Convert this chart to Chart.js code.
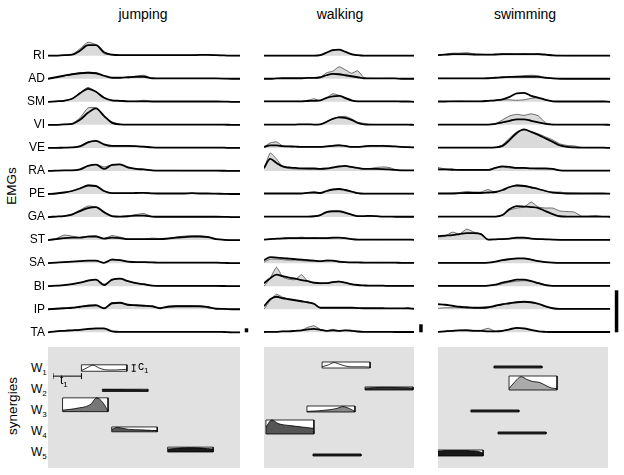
<!DOCTYPE html>
<html><head><meta charset="utf-8">
<script src="https://cdn.jsdelivr.net/npm/chart.js@4.4.0/dist/chart.umd.min.js"></script>
<style>
body{margin:0;background:#fff;width:624px;height:475px;position:relative;overflow:hidden;font-family:"Liberation Sans",Arial,sans-serif;color:#000;}
canvas{position:absolute;display:block;}
.title{position:absolute;top:7px;font-size:14px;line-height:14px;transform:translateX(-50%);white-space:nowrap;}
.vlab{position:absolute;line-height:1;transform:translate(-50%,-50%) rotate(-90deg);white-space:nowrap;}
.wlab{position:absolute;font-size:12px;line-height:12px;left:31px;white-space:nowrap;}
.wlab sub,.sm sub{font-size:8px;line-height:8px;vertical-align:-3px;}
.sm{position:absolute;font-size:12px;line-height:12px;white-space:nowrap;}
</style></head>
<body>
<div class="title" style="left:143px">jumping</div>
<div class="title" style="left:340px">walking</div>
<div class="title" style="left:525px">swimming</div>
<div class="vlab" style="left:12px;top:186px;font-size:13.5px">EMGs</div>
<div class="vlab" style="left:13px;top:406px;font-size:13.5px">synergies</div>
<div class="wlab" style="top:361.5px">W<sub>1</sub></div>
<div class="wlab" style="top:382.5px">W<sub>2</sub></div>
<div class="wlab" style="top:403.5px">W<sub>3</sub></div>
<div class="wlab" style="top:424.5px">W<sub>4</sub></div>
<div class="wlab" style="top:445.5px">W<sub>5</sub></div>
<canvas id="e0" width="252" height="320" style="left:0;top:25px"></canvas>
<canvas id="e1" width="162" height="320" style="left:264px;top:25px"></canvas>
<canvas id="e2" width="184" height="320" style="left:438px;top:25px"></canvas>
<canvas id="s0" width="192" height="121" style="left:48px;top:347px;background:#e1e1e1"></canvas>
<canvas id="s1" width="150" height="121" style="left:264px;top:347px;background:#e1e1e1"></canvas>
<canvas id="s2" width="170" height="121" style="left:438px;top:347px;background:#e1e1e1"></canvas>
<div class="sm" style="left:60px;top:374px">t<sub>1</sub></div>
<div class="sm" style="left:138px;top:360px">c<sub>1</sub></div>
<script>
const tasks = ['jumping','walking','swimming'];
const muscles = ['RI','AD','SM','VI','VE','RA','PE','GA','ST','SA','BI','IP','TA'];
const durationsMs = [800, 625, 717];
const scaleBarHeights = [4, 8, 42];

// EMG envelopes (grey filled) and synergy reconstruction (thick line), 25 samples per trial
const jumpingEMG = [
 [0,0,0.5,1,7,13.5,11,2,0.8,0.5,0.5,0.5,0.5,0.5,0.5,0.5,0.5,0.5,0.5,1,1,0.5,0.3,0,0],
 [0,1.5,3,4.5,6,6.5,6,3,1,1,1.5,2.5,3.5,0.5,0.3,0.3,0.3,0.3,0.3,0.3,0.3,0.3,0.2,0,0],
 [0,0.5,1,3,9,14.5,10,4.5,1,0.5,0.5,0.5,1.5,0.3,0.3,0.3,0.3,0.3,0.3,0.3,0.3,0.3,0.2,0,0],
 [0,0,0.5,1,7,17,17,8,3,0.5,0.3,0.3,0.3,0.3,0.3,0.3,0.3,0.3,0.3,0.3,0.3,0.3,0.2,0,0],
 [0,0,0.3,0.5,2,6,7.5,3,1.5,1.5,1.5,1.5,1,0.5,0.3,0.3,0.3,0.3,0.3,0.3,0.3,0.3,0.2,0,0],
 [0,0.3,0.5,0.5,1.5,5,6.5,4,6,6.5,3,2,1.5,0.5,0.5,0.5,0.5,0.3,0.3,0.3,0.3,0.3,0.2,0,0],
 [0,0.5,1.5,3,6,9,8,3,0.8,0.8,0.8,1,1.5,0.7,0.5,0.5,0.5,0.5,0.8,0.5,0.5,0.3,0.2,0,0],
 [0,0.5,1,3,7,11,10,4,0.5,0.5,1,2.5,3.5,0.5,0.3,0.3,0.3,0.3,0.3,0.3,0.3,0.3,0.2,0,0],
 [0,1.5,5,4,2.5,4,4.5,1.5,4.5,3,1,1,1,2,1.5,2,3,4,4.5,4.5,3.5,1,0.3,0,0],
 [0,0.5,1,1.5,2,2.5,2.5,0.5,4,3,1.5,1,1,0.8,0.5,0.5,0.5,0.5,0.5,0.5,0.5,0.5,0.3,0,0],
 [0,0.5,1,2,3.5,6,6.5,2,6,7.5,5,3,1.5,0.8,0.3,0.3,0.3,0.3,0.3,0.3,0.3,0.3,0.2,0,0],
 [0,0.5,1,1.5,2.5,4,4,1,6.5,6.5,4.5,4,3.5,3,1,3,3.5,3.5,3.5,3,2.5,0.5,0.3,0,0],
 [0,1,1.5,2,2.5,3,3.5,3.5,1,0.5,0.5,0.5,0.5,0.5,0.5,0.5,0.5,0.5,0.5,0.5,0.5,0.5,0.3,0,0]
];
const jumpingFit = [
 [0,0,0.5,1,5,10.5,10.5,3.5,1,0.5,0.5,0.5,0.5,0.5,0.5,0.5,0.5,0.5,0.5,0.8,0.8,0.5,0.3,0,0],
 [0,1.5,3,4.5,5.5,6,5.5,3,1,1,1.5,2,2,0.5,0.3,0.3,0.3,0.3,0.3,0.3,0.3,0.3,0.2,0,0],
 [0,0.5,1,3,8.5,13,10,4,1.5,1,0.5,0.5,0.5,0.3,0.3,0.3,0.3,0.3,0.3,0.3,0.3,0.3,0.2,0,0],
 [0,0,0.5,1,5,12,16.5,9,2,0.5,0.3,0.3,0.3,0.3,0.3,0.3,0.3,0.3,0.3,0.3,0.3,0.3,0.2,0,0],
 [0,0,0.3,0.5,1.5,5.5,7,3.5,2,2,2,1.8,1.2,0.5,0.3,0.3,0.3,0.3,0.3,0.3,0.3,0.3,0.2,0,0],
 [0,0.3,0.5,0.5,1.5,5,6.3,2,6,6.5,3.5,2,1.5,0.5,0.3,0.3,0.3,0.3,0.3,0.3,0.3,0.3,0.2,0,0],
 [0,0.5,1.5,3,5.5,8.5,8,3,0.8,0.8,0.8,1,1.2,0.7,0.5,0.5,0.5,0.5,0.8,0.5,0.5,0.3,0.2,0,0],
 [0,0.5,1,2.5,6,9,10,5,1,0.5,0.8,1.5,1.5,0.5,0.3,0.3,0.3,0.3,0.3,0.3,0.3,0.3,0.2,0,0],
 [0,1,2,2.5,2.5,3.5,3.5,1.5,2.5,2,1,1,1,1,1,1.5,2.5,3,3.5,3.5,3,1,0.3,0,0],
 [0,0.5,1,1.5,2,2.5,2.5,0.3,3.5,3,1.5,1,1,0.8,0.5,0.5,0.5,0.5,0.5,0.5,0.5,0.5,0.3,0,0],
 [0,0.5,1,2,3.5,5.5,6.5,1,6.5,7.5,5,3,2,0.5,0.3,0.3,0.3,0.3,0.3,0.3,0.3,0.3,0.2,0,0],
 [0,0.5,1,1.5,2.5,3.5,4,0.8,6,6.5,4.5,4,3.5,3,1,2.5,3,3,3,3,2,0.5,0.3,0,0],
 [0,1,1.5,2,2.5,3.5,4,4,1,0.5,0.5,0.5,0.5,0.5,0.5,0.5,0.5,0.5,0.5,0.5,0.5,0.5,0.3,0,0]
];
const walkingEMG = [
 [0,0,0,0,0,0,0,0,0,0.5,3,6,6,3.5,1,0.3,0,0,0,0,0,0,0,0,0],
 [0,0,0.3,0.5,0.5,0.5,0.5,1,0.8,1,6,7.5,12,9,5.5,8,1,0.5,0.3,0.3,0.5,0.3,0,0,0],
 [0.5,0.5,0.5,0.5,0.5,0.5,0.5,1.5,3,1,4,8,6.5,3,1,0.5,0.5,0.5,0.5,0.5,0.5,0.5,0.3,0.3,0],
 [0.3,0.3,0.3,0.3,0.3,0.3,0.5,0.5,0.3,0.5,3,6,8,8.5,6,2.5,1.5,0.5,0.3,0.3,0.3,0.3,0.3,0.3,0],
 [1,5,6,2,1.5,1.5,1,1,1,1,1.5,2.5,3,2,1,1,1.5,2,2,2.5,2,1.5,1,1,0.5],
 [2,18,12,4,2.5,2,2,1.5,1.5,1.5,2,3,4,4.5,4,3,2.5,2.5,3.5,4,3.5,1.5,0.8,0.5,0.5],
 [0.5,0.5,0.5,0.5,0.5,0.5,0.5,1.5,2,1,2.5,4.5,5,4,2,0.5,0.3,0.3,0.3,0.3,0.3,0.3,0.3,0.3,0.3],
 [0.5,0.5,0.5,0.5,0.5,0.5,0.5,0.5,0.5,1.5,4.5,5,5,4,2.5,0.8,0.5,0.5,0.5,0.5,0.5,0.3,0.3,0.3,0.3],
 [0.5,1,1.5,1.5,2,2,3,2,2.5,2,2,2,2.5,2,1,0.5,0.5,0.5,0.5,0.5,0.5,0.5,0.5,0.5,0.3],
 [1,4,4,3.5,3,3,2.5,2,2,1.5,3,2.5,1,0.8,0.5,0.5,0.5,0.5,0.5,0.5,0.5,0.5,0.3,0.3,0.3],
 [0,8,19,9,7,6.5,11.5,5,3,2.5,3,4.5,5,3.5,1.5,1,0.5,0.5,0.5,0.5,0.3,0.3,0.3,0.3,0.3],
 [0,9,15,12,10,9,8,7,5,1.5,1.5,1.5,1.5,1.5,1.5,1.2,1,1,1,1,0.8,0.8,0.8,1,0.5],
 [0.3,0.5,0.5,1,1,1.5,2,5,6.5,3,1.5,3,1.5,2,2,1,0.5,0.5,0.5,0.5,0.5,0.3,0.3,0.3,0.3]
];
const walkingFit = [
 [0,0,0,0,0,0,0,0,0,0.5,3,5.5,6,4,1.5,0.5,0,0,0,0,0,0,0,0,0],
 [0,0,0.3,0.5,0.5,0.5,0.5,0.8,0.8,1.5,3.5,4.8,4.5,3.5,2.5,1.5,0.5,0.3,0.3,0.3,0.3,0.3,0,0,0],
 [0.5,0.5,0.5,0.5,0.5,0.5,0.5,0.8,1,1.5,4,5.5,6,4,1.5,0.5,0.5,0.5,0.5,0.5,0.5,0.5,0.3,0.3,0],
 [0.3,0.3,0.3,0.3,0.3,0.3,0.5,0.5,0.3,0.5,3,6,7.5,7,5,2,0.5,0.3,0.3,0.3,0.3,0.3,0.3,0.3,0],
 [1,2.5,2.5,1.8,1.5,1.3,1,1,1,1,1.5,2,2.5,2,1,1,1.5,2,2,2,1.8,1.5,1,0.8,0.5],
 [3,12,8,4.5,3.5,3,2.5,2.5,2.5,2,2.5,3.5,4.5,5,4,3,2,2,2,1.8,1.5,1,0.5,0.5,0.5],
 [0.5,0.5,0.5,0.5,0.5,0.5,0.5,1.2,1.5,1,3,4.5,5,4,2.5,0.8,0.3,0.3,0.3,0.3,0.3,0.3,0.3,0.3,0.3],
 [0.5,0.5,0.5,0.5,0.5,0.5,0.5,0.5,0.8,2,5,6,6,4.5,2.5,1,1,1.2,1,0.5,0.5,0.3,0.3,0.3,0.3],
 [0.5,1,1.5,1.8,2,2,2,2,2,2,2,2.5,2.5,2,1,0.5,0.5,0.5,0.5,0.5,0.5,0.5,0.5,0.5,0.3],
 [3,6,5.5,5,4.5,4,3.5,3,2.5,2,2.5,2.5,1.5,1,0.8,0.8,0.5,0.5,0.5,0.5,0.5,0.5,0.3,0.3,0.3],
 [3,8,11.5,10,8.5,7.5,6,5,3.5,3,3,4,4.5,3.5,2,1.2,0.8,0.5,0.5,0.5,0.3,0.3,0.3,0.3,0.3],
 [3,10,12.5,11,10,9,8,7,5.5,1.5,1.5,1.5,1.5,1.5,1.5,1.2,1,1,1,1,0.8,0.8,0.8,1,0.5],
 [0.3,0.5,0.5,1,1,1.5,2,3,3.5,2.5,1.5,2,1.5,2,1.5,0.8,0.5,0.5,0.5,0.5,0.5,0.3,0.3,0.3,0.3]
];
const swimmingEMG = [
 [0.5,1.5,2.5,2.5,3,2,1.5,1,1.5,2,2,1.5,2,1.5,2,1.5,0.5,0.3,0,0,0,0,0,0,0],
 [0.3,0.3,0.3,0.3,0.3,0.3,0.3,0.5,1,1.5,1.5,2,3,3.5,3,1,0.5,0.3,0,0,0,0,0,0,0],
 [0.3,0.3,0.5,0.8,0.5,0.5,0.5,1,1.5,2,2,1.5,2,3.5,4,2,0.5,0.3,0.3,0.3,0.3,0.3,0.3,0.5,0],
 [0.3,0.3,0.3,0.3,0.3,0.3,0.3,0.3,1,5,9,10.5,9.5,11,9,2,0.5,0.3,0.3,0.3,0.3,0.3,0.3,0.3,0],
 [0.3,0.3,0.3,0.3,0.3,0.3,0.3,0.3,0.5,3,10,16,18,16,14,11,8,4,2.5,2,0.5,0.3,0.3,0.3,0],
 [3.5,2,2,1,0.8,0.8,0.8,1,3,4,3,2.5,2.5,2.5,2,2,2,0.5,0.3,0.3,0.3,0.3,0.3,0.3,0.3],
 [0.5,0.5,0.8,1.5,2.5,2,2,4.5,1.5,4,7,9,8.5,7,5,3,1.5,2,1,0.8,0.5,0.5,0.5,0.5,0.3],
 [0.5,0.5,0.5,0.5,0.5,0.5,0.5,0.5,0.5,2,7,9,10,15,10,9,9,6,5.5,5,1,1,1.5,0.5,0.3],
 [3,4,8,6,11,8,6,0.5,0.5,1,1.5,2,2,1.5,1,0.8,0.5,0.3,0.3,0.3,0.3,0.3,0.3,0.3,0.3],
 [0.3,0.3,0.3,0.3,0.3,0.3,0.3,0.5,1.5,3,4,4.5,4.5,3.5,2,1,0.5,0.3,0.3,0.3,0.3,0.3,0.3,0.3,0.3],
 [0.3,0.3,0.3,0.3,0.3,0.3,0.3,0.5,1,2.5,4,5,5.5,5,3.5,1.5,0.5,0.3,0.3,0.3,0.3,0.3,0.3,0.3,0.3],
 [1,1.5,1.5,1.5,1,1,1,1.5,3,5,6.5,7,7.5,6.5,5,2.5,0.8,0.3,0.3,0.3,0.3,0.3,0.3,0.3,0.3],
 [0.5,1,1.5,2,2.5,2,2,4,1,1.5,3,4,3.5,2,1,0.5,0.3,0.3,0.3,0.3,0.3,0.3,0.3,0.3,0.3]
];
const swimmingFit = [
 [0.5,1,1.5,1.5,1.5,1.2,1,1,1.2,1.5,1.5,1.5,1.5,1.5,1.5,1,0.3,0,0,0,0,0,0,0,0],
 [0.3,0.3,0.3,0.3,0.3,0.3,0.3,0.5,1,1.5,1.8,2,2,2,1.8,1,0.3,0,0,0,0,0,0,0,0],
 [0.3,0.3,0.5,0.5,0.5,0.5,0.5,1,1.5,2.5,5,8.5,9,6,4,2,0.5,0.3,0.3,0.3,0.3,0.3,0.3,0.3,0],
 [0.3,0.3,0.3,0.3,0.3,0.3,0.3,0.3,1,2.5,4,5.5,5.5,4,2.5,1,0.3,0.3,0.3,0.3,0.3,0.3,0.3,0.3,0],
 [0.3,0.3,0.3,0.3,0.3,0.3,0.3,0.3,0.5,2,8,15,18.5,16,13,9.5,6,2.5,1,0.5,0.3,0.3,0.3,0.3,0],
 [1.5,1.5,1.2,1,1,1,1,1,3,4.5,4,3,3,2.5,2.5,2.5,2,0.5,0.3,0.3,0.3,0.3,0.3,0.3,0.3],
 [0.5,0.5,0.5,0.8,1,1,1,1.5,2,4,7,8.5,8,6.5,5,3,1.5,0.8,0.5,0.5,0.5,0.5,0.5,0.5,0.3],
 [0.5,0.5,0.5,0.5,0.5,0.5,0.5,0.5,0.5,2,8,11,10.5,10,9,6,3,0.8,0.5,0.5,0.5,0.5,0.5,0.5,0.3],
 [4,4.5,5,6,7,7,6,0.5,0.8,1,1.5,2.5,2.5,1.5,1,0.8,0.5,0.3,0.3,0.3,0.3,0.3,0.3,0.3,0.3],
 [0.3,0.3,0.3,0.3,0.3,0.3,0.3,0.5,1.5,3,4,4.8,4.8,3.5,2,1,0.5,0.3,0.3,0.3,0.3,0.3,0.3,0.3,0.3],
 [0.3,0.3,0.3,0.3,0.3,0.3,0.3,0.5,1.5,3.5,5,6.5,6.5,5,3,1,0.3,0.3,0.3,0.3,0.3,0.3,0.3,0.3,0.3],
 [5,4.5,3.5,2.5,2,1.5,1.5,2,3.5,5,6,7,7.5,7,5.5,3,1,0.3,0.3,0.3,0.3,0.3,0.3,0.3,0.3],
 [0.5,1,1.5,2,2,1.5,1.5,1,1,1.5,3,4.5,4,2.5,1,0.5,0.3,0.3,0.3,0.3,0.3,0.3,0.3,0.3,0.3]
];

// synergies: onset (ms), amplitude coefficient, waveform (9 samples over 200 ms)
const synergyDurationMs = 200;
const jumpingOnset = [125, 217, 42, 258, 504];
const jumpingAmp = [0.44, 0.15, 0.94, 0.33, 0.33];
const walkingOnset = [242, 421, 179, 8, 204];
const walkingAmp = [0.375, 0.19, 0.375, 0.875, 0.12];
const swimmingOnset = [233, 296, 137, 250, -12];
const swimmingAmp = [0.12, 0.875, 0.12, 0.12, 0.375];
const jumpingProfile = [
 [0.1,0.55,0.95,0.55,0.25,0.2,0.2,0.25,0.3],
 [0.9,0.9,0.85,0.85,0.8,0.8,0.75,0.7,0.7],
 [0.1,0.15,0.2,0.28,0.35,0.55,1.0,0.7,0.05],
 [0.5,0.9,0.7,0.5,0.45,0.4,0.35,0.3,0.25],
 [0.6,0.7,0.8,0.85,0.9,0.85,0.8,0.7,0.6]
];
const walkingProfile = [
 [0.2,0.5,0.9,0.6,0.3,0.2,0.2,0.2,0.15],
 [0.6,0.7,0.8,0.85,0.85,0.8,0.75,0.7,0.6],
 [0.1,0.15,0.2,0.3,0.4,0.6,0.9,0.6,0.1],
 [0.5,1.0,0.75,0.65,0.6,0.55,0.5,0.45,0.4],
 [0.9,0.9,0.9,0.9,0.9,0.9,0.9,0.9,0.9]
];
const swimmingProfile = [
 [0.9,0.9,0.9,0.9,0.9,0.9,0.9,0.9,0.9],
 [0.1,0.6,0.95,0.75,0.6,0.55,0.35,0.15,0.1],
 [0.9,0.9,0.9,0.9,0.9,0.9,0.9,0.9,0.9],
 [0.9,0.9,0.9,0.9,0.9,0.9,0.9,0.9,0.9],
 [0.8,0.85,0.9,0.9,0.9,0.9,0.85,0.8,0.5]
];

// styles / layout (not data)
const jumpingFill = ['#ffffff','#222222','#777777','#555555','#1a1a1a'];
const walkingFill = ['#ffffff','#333333','#888888','#555555','#222222'];
const swimmingFill = ['#333333','#aaaaaa','#333333','#333333','#1a1a1a'];
const PX_PER_MS = 0.24;
const ROW = 23.05;
const SYN_ROW = 22, SYN_TOP_BASE = 100, SYN_MAXH = 16;

const baseOpts = (xMax, yMin, yMax, yExtra) => ({
  responsive:false, animation:false, devicePixelRatio:1,
  layout:{padding:0},
  plugins:{legend:{display:false}, tooltip:{enabled:false}, title:{display:false}},
  scales:{
    x:{type:'linear', min:0, max:xMax, display:false},
    y:Object.assign({type:'linear', min:yMin, max:yMax, display:false}, yExtra||{})
  }
});

function emgChart(id, emg, fit, dur, plotW, barX, barH, labels) {
  const datasets = [];
  const n = emg[0].length;
  emg.forEach((row, i) => {
    const base = (muscles.length - 1 - i) * ROW;
    datasets.push({data: row.map((v, j) => ({x: j/(n-1)*dur, y: base + v})),
      fill:{value: base}, backgroundColor:'#dadada', borderColor:'#333', borderWidth:0.7,
      tension:0.15, pointRadius:0, order:2});
  });
  fit.forEach((row, i) => {
    const base = (muscles.length - 1 - i) * ROW;
    datasets.push({data: row.map((v, j) => ({x: j/(n-1)*dur, y: base + v})),
      fill:false, borderColor:'#000', borderWidth:1.8, cubicInterpolationMode:'monotone',
      pointRadius:0, order:1});
  });
  datasets.push({data:[{x:barX, y:0},{x:barX, y:barH}], fill:false, borderColor:'#000',
    borderWidth:3.5, borderCapStyle:'butt', pointRadius:0, order:0});
  const yExtra = labels ? {
    display:true,
    afterFit: s => { s.width = 48; s.paddingTop = 0; s.paddingBottom = 0; },
    afterBuildTicks: s => { s.ticks = muscles.map((m, i) => ({value: (muscles.length - 1 - i) * ROW})); },
    ticks:{autoSkip:false, padding:3, color:'#000', font:{family:'Liberation Sans', size:12},
      callback: v => muscles[muscles.length - 1 - Math.round(v / ROW)]},
    grid:{display:false, drawTicks:false}, border:{display:false}
  } : {};
  new Chart(document.getElementById(id), {type:'line', data:{datasets},
    options: baseOpts(plotW / PX_PER_MS, -12.7, 307.3, yExtra)});
}

function synChart(id, onsets, amps, profiles, fills, plotW, markers) {
  const datasets = [];
  onsets.forEach((on, r) => {
    const base = SYN_TOP_BASE - SYN_ROW * r;
    const h = amps[r] * SYN_MAXH;
    const top = base + h, off = on + synergyDurationMs;
    const p = profiles[r];
    datasets.push({data:[{x:on, y:top},{x:off, y:top}], fill:{value:base}, backgroundColor:'#ffffff',
      borderColor:'rgba(0,0,0,0)', borderWidth:0, pointRadius:0, order:3});
    datasets.push({data:p.map((v, j) => ({x:on + j/(p.length-1)*synergyDurationMs, y:base + v*h})),
      fill:{value:base}, backgroundColor:fills[r], borderColor:'#000', borderWidth:0.8,
      cubicInterpolationMode:'monotone', pointRadius:0, order:2});
    datasets.push({data:[{x:on,y:base},{x:on,y:top},{x:off,y:top},{x:off,y:base},{x:on,y:base}],
      fill:false, borderColor:'#000', borderWidth:0.8, tension:0, pointRadius:0, order:1});
  });
  if (markers) {
    const base = SYN_TOP_BASE, h = amps[0] * SYN_MAXH;
    const ty = base - 5.3;
    datasets.push({data:[{x:0, y:ty},{x:onsets[0], y:ty}], fill:false, borderColor:'#000', borderWidth:1,
      pointStyle:'line', rotation:90, pointRadius:3, pointBorderWidth:1, pointBorderColor:'#000', order:0});
    const cx = onsets[0] + synergyDurationMs + 30;
    datasets.push({data:[{x:cx, y:base},{x:cx, y:base + h}], fill:false, borderColor:'#000', borderWidth:1,
      pointStyle:'line', rotation:0, pointRadius:2, pointBorderWidth:1, pointBorderColor:'#000', order:0});
  }
  new Chart(document.getElementById(id), {type:'line', data:{datasets},
    options: baseOpts(plotW / PX_PER_MS, 0, 121)});
}

emgChart('e0', jumpingEMG, jumpingFit, durationsMs[0], 204, 827, scaleBarHeights[0], true);
emgChart('e1', walkingEMG, walkingFit, durationsMs[1], 162, 654, scaleBarHeights[1], false);
emgChart('e2', swimmingEMG, swimmingFit, durationsMs[2], 184, 744, scaleBarHeights[2], false);
synChart('s0', jumpingOnset, jumpingAmp, jumpingProfile, jumpingFill, 192, true);
synChart('s1', walkingOnset, walkingAmp, walkingProfile, walkingFill, 150, false);
synChart('s2', swimmingOnset, swimmingAmp, swimmingProfile, swimmingFill, 170, false);
</script>
</body></html>
